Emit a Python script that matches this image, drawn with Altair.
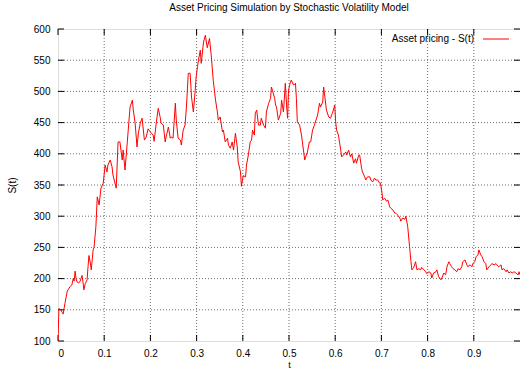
import altair as alt
import pandas as pd

# Simulated asset price path S(t) on t in [0, 1]
t = [
    0.000, 0.002, 0.006, 0.009, 0.011, 0.015, 0.020, 0.026, 0.030, 0.033,
    0.035, 0.037, 0.039, 0.041, 0.045, 0.048, 0.052, 0.054, 0.056, 0.059,
    0.063, 0.065, 0.067, 0.070, 0.072, 0.076, 0.078, 0.082, 0.085, 0.089,
    0.093, 0.098, 0.102, 0.106, 0.108, 0.113, 0.117, 0.119, 0.126, 0.130,
    0.134, 0.139, 0.141, 0.145, 0.150, 0.152, 0.156, 0.161, 0.163, 0.167,
    0.171, 0.174, 0.178, 0.182, 0.187, 0.191, 0.195, 0.200, 0.202, 0.206,
    0.208, 0.213, 0.217, 0.221, 0.223, 0.228, 0.232, 0.234, 0.239, 0.243,
    0.245, 0.249, 0.254, 0.256, 0.260, 0.265, 0.267, 0.271, 0.275, 0.278,
    0.282, 0.286, 0.289, 0.293, 0.297, 0.299, 0.302, 0.304, 0.308, 0.310,
    0.315, 0.319, 0.323, 0.328, 0.332, 0.336, 0.341, 0.345, 0.347, 0.351,
    0.356, 0.358, 0.362, 0.367, 0.369, 0.373, 0.377, 0.380, 0.384, 0.388,
    0.390, 0.395, 0.397, 0.401, 0.406, 0.408, 0.412, 0.416, 0.419, 0.421,
    0.425, 0.427, 0.430, 0.434, 0.438, 0.440, 0.445, 0.449, 0.451, 0.456,
    0.460, 0.462, 0.464, 0.469, 0.471, 0.473, 0.477, 0.482, 0.484, 0.488,
    0.492, 0.495, 0.497, 0.499, 0.503, 0.505, 0.510, 0.514, 0.516, 0.518,
    0.523, 0.527, 0.529, 0.534, 0.536, 0.540, 0.544, 0.547, 0.551, 0.555,
    0.557, 0.562, 0.566, 0.568, 0.573, 0.575, 0.579, 0.581, 0.586, 0.590,
    0.592, 0.594, 0.599, 0.601, 0.603, 0.607, 0.612, 0.614, 0.618, 0.623,
    0.625, 0.629, 0.633, 0.636, 0.640, 0.644, 0.646, 0.651, 0.653, 0.657,
    0.659, 0.664, 0.666, 0.670, 0.675, 0.677, 0.681, 0.685, 0.688, 0.692,
    0.696, 0.698, 0.701, 0.703, 0.707, 0.711, 0.714, 0.718, 0.720, 0.725,
    0.729, 0.731, 0.735, 0.740, 0.742, 0.746, 0.751, 0.753, 0.757, 0.761,
    0.764, 0.766, 0.770, 0.774, 0.777, 0.781, 0.785, 0.787, 0.792, 0.796,
    0.798, 0.803, 0.807, 0.809, 0.813, 0.818, 0.820, 0.824, 0.829, 0.831,
    0.835, 0.839, 0.842, 0.846, 0.848, 0.852, 0.855, 0.859, 0.863, 0.866,
    0.870, 0.874, 0.876, 0.881, 0.885, 0.887, 0.892, 0.896, 0.898, 0.902,
    0.905, 0.909, 0.911, 0.915, 0.918, 0.922, 0.926, 0.928, 0.933, 0.937,
    0.939, 0.944, 0.948, 0.950, 0.954, 0.959, 0.961, 0.965, 0.970, 0.972,
    0.976, 0.980, 0.983, 0.987, 0.991, 0.996, 0.998, 1.000,
]
s = [
    100, 152, 150, 146, 143, 160, 180, 187, 190, 200,
    196, 212, 200, 195, 193, 196, 205, 195, 182, 192,
    198, 219, 237, 225, 214, 246, 250, 283, 331, 318,
    345, 353, 382, 371, 382, 390, 379, 366, 345, 419,
    419, 390, 406, 374, 419, 438, 475, 486, 470, 449,
    411, 433, 449, 457, 422, 427, 440, 435, 433, 430,
    420, 451, 473, 459, 449, 446, 419, 427, 443, 425,
    427, 425, 481, 454, 425, 422, 414, 438, 446, 475,
    529, 529, 491, 467, 502, 523, 540, 550, 566, 545,
    579, 590, 570, 585, 555, 518, 486, 467, 454, 459,
    435, 438, 419, 425, 414, 409, 419, 406, 433, 411,
    387, 371, 348, 365, 363, 382, 398, 419, 422, 438,
    430, 465, 470, 446, 446, 457, 446, 441, 467, 481,
    489, 507, 502, 489, 478, 475, 454, 465, 486, 467,
    513, 475, 457, 502, 515, 518, 510, 513, 489, 451,
    446, 430, 419, 390, 395, 403, 419, 419, 438, 446,
    451, 462, 481, 475, 483, 507, 483, 470, 459, 457,
    462, 465, 478, 451, 438, 430, 406, 395, 398, 403,
    398, 406, 395, 400, 385, 392, 385, 398, 398, 377,
    371, 363, 358, 363, 363, 358, 355, 361, 358, 358,
    353, 353, 339, 326, 329, 324, 326, 315, 313, 310,
    305, 305, 302, 297, 292, 297, 295, 300, 283, 251,
    227, 214, 218, 227, 214, 216, 214, 218, 214, 211,
    208, 211, 209, 201, 209, 211, 214, 203, 198, 201,
    209, 206, 219, 227, 224, 219, 216, 214, 211, 216,
    214, 219, 227, 230, 222, 219, 222, 219, 224, 227,
    235, 238, 246, 238, 235, 227, 224, 214, 219, 222,
    224, 222, 224, 222, 219, 222, 214, 216, 211, 214,
    209, 211, 209, 211, 209, 206, 211, 206,
]

x_ticks = [0, 0.1, 0.2, 0.3, 0.4, 0.5, 0.6, 0.7, 0.8, 0.9]
y_ticks = [100, 150, 200, 250, 300, 350, 400, 450, 500, 550, 600]
x_grid = [0.1, 0.2, 0.3, 0.4, 0.5, 0.6, 0.7, 0.8, 0.9]
y_grid = [150, 200, 250, 300, 350, 400, 450, 500, 550]

W, H = 462, 312
FONT = "Liberation Sans"

df = pd.DataFrame({"t": t, "S": s})
xs = alt.Scale(domain=[0, 1], nice=False, zero=False)
ys = alt.Scale(domain=[100, 600], nice=False, zero=False)

# One shared axis definition per direction, reused by every layer
x_axis = alt.Axis(
    values=x_ticks, title="t", grid=False, tickSize=0, domain=False,
    format="~g",
    labelPadding=7, labelFont=FONT, labelFontSize=10, labelColor="black",
    titleFont=FONT, titleFontSize=9, titleFontWeight="normal",
    titleColor="black", titlePadding=2,
)
y_axis = alt.Axis(
    values=y_ticks, title="S(t)", grid=False, tickSize=0, domain=False,
    labelPadding=8, labelFont=FONT, labelFontSize=10, labelColor="black",
    titleFont=FONT, titleFontSize=10, titleFontWeight="normal",
    titleColor="black", titlePadding=16,
)

xg = pd.DataFrame({"v": x_grid})
yg = pd.DataFrame({"v": y_grid})
xt = pd.DataFrame({"v": x_ticks})
yt = pd.DataFrame({"v": y_ticks})

grid_style = dict(color="#6e6e6e", strokeWidth=1, strokeDash=[1, 2])

vgrid = alt.Chart(xg).mark_rule(**grid_style).encode(
    x=alt.X("v:Q", scale=xs, axis=x_axis),
    y=alt.value(0), y2=alt.value(H),
)
hgrid = alt.Chart(yg).mark_rule(**grid_style).encode(
    y=alt.Y("v:Q", scale=ys, axis=y_axis),
    x=alt.value(0), x2=alt.value(W),
)

tick_style = dict(color="black", strokeWidth=1)
xtick_bottom = alt.Chart(xt).mark_rule(**tick_style).encode(
    x=alt.X("v:Q", scale=xs, axis=x_axis), y=alt.value(H - 6), y2=alt.value(H)
)
xtick_top = alt.Chart(xt).mark_rule(**tick_style).encode(
    x=alt.X("v:Q", scale=xs, axis=x_axis), y=alt.value(0), y2=alt.value(6)
)
ytick_left = alt.Chart(yt).mark_rule(**tick_style).encode(
    y=alt.Y("v:Q", scale=ys, axis=y_axis), x=alt.value(0), x2=alt.value(6)
)
ytick_right = alt.Chart(yt).mark_rule(**tick_style).encode(
    y=alt.Y("v:Q", scale=ys, axis=y_axis), x=alt.value(W - 6), x2=alt.value(W)
)

line = alt.Chart(df).mark_line(color="#ff0000", strokeWidth=1, clip=True).encode(
    x=alt.X("t:Q", scale=xs, axis=x_axis),
    y=alt.Y("S:Q", scale=ys, axis=y_axis),
)

key_text = alt.Chart(pd.DataFrame({"label": ["Asset pricing - S(t)"]})).mark_text(
    align="right", baseline="middle", font=FONT, fontSize=10, color="black"
).encode(text="label:N", x=alt.value(416), y=alt.value(10))
key_line = alt.Chart(pd.DataFrame({"k": [0]})).mark_rule(
    color="#ff0000", strokeWidth=1
).encode(x=alt.value(425), x2=alt.value(451), y=alt.value(10))

chart = alt.layer(
    vgrid, hgrid, xtick_bottom, xtick_top, ytick_left, ytick_right,
    line, key_text, key_line,
).properties(
    width=W, height=H,
    title=alt.TitleParams(
        "Asset Pricing Simulation by Stochastic Volatility Model",
        font=FONT, fontSize=10, fontWeight="normal", color="black",
        anchor="middle", offset=11,
    ),
    autosize=alt.AutoSizeParams(type="none"),
    padding={"left": 58, "top": 29, "right": 0, "bottom": 28},
).configure_view(stroke="black", strokeWidth=1).configure(background="white")

chart.save("out.html", embed_options={"renderer": "svg", "actions": False})
